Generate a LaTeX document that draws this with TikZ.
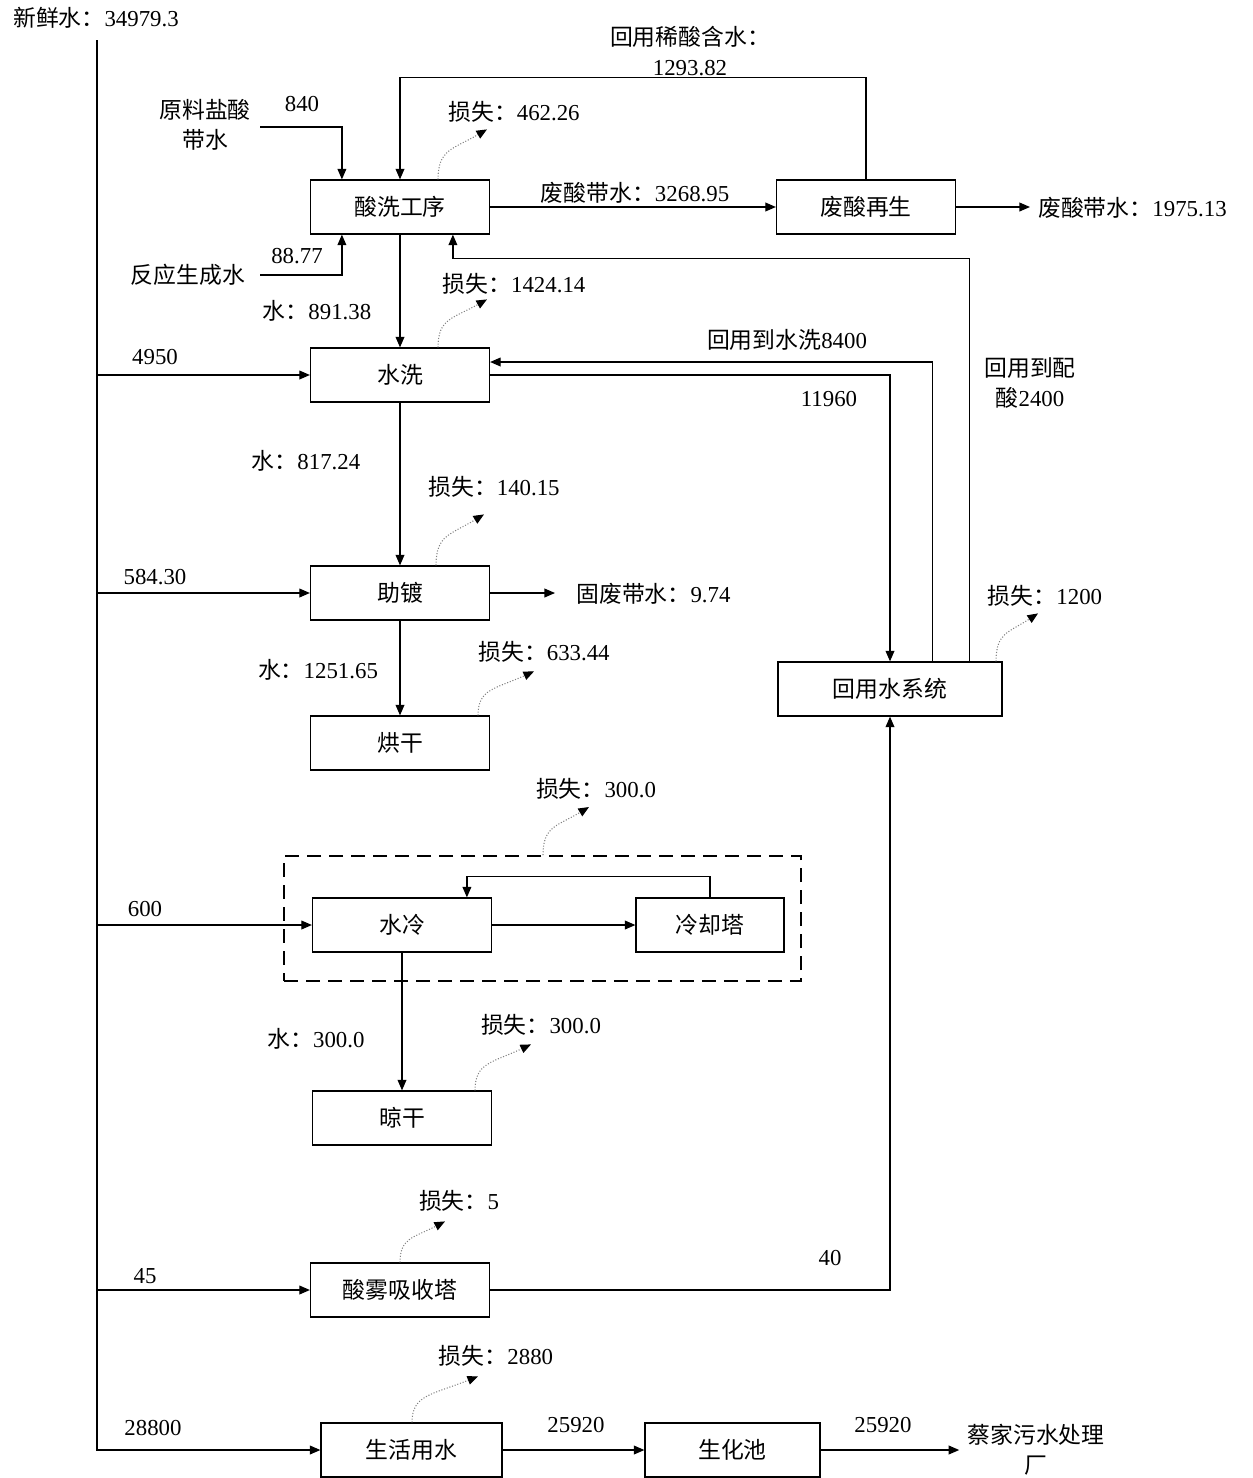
\documentclass[tikz,border=0pt]{standalone}
\usepackage{fontspec}
\setmainfont{Liberation Serif}
\newfontfamily\cjkfont{Noto Sans CJK SC}
\newcommand{\zh}[1]{{\cjkfont #1}}
\usetikzlibrary{arrows.meta,calc}

\tikzset{
  box/.style={draw, line width=0.7pt, minimum width=3.58cm, minimum height=1.08cm, inner sep=0pt, font=\fontsize{13}{17}\selectfont},
  lbl/.style={inner sep=0pt, font=\fontsize{13}{17}\selectfont},
  flow/.style={line width=0.7pt, -{Triangle[length=6pt,width=5pt]}},
  loss/.style={gray, densely dotted, line width=0.6pt, -{Triangle[length=6pt,width=5pt,color=black]}}
}

\begin{document}
\begin{tikzpicture}[x=0.02cm, y=-0.02cm]
  \useasboundingbox (0,0) rectangle (1252,1478);

  % boxes
  \node[box] (sxgx) at (400,207) {\zh{酸洗工序}};
  \node[box] (fscs) at (866,207) {\zh{废酸再生}};
  \node[box] (sx) at (400,375) {\zh{水洗}};
  \node[box] (zd) at (400,593) {\zh{助镀}};
  \node[box] (hg) at (400,743) {\zh{烘干}};
  \node[box, minimum width=4.48cm] (hys) at (890,689) {\zh{回用水系统}};
  \node[draw, dashed, line width=1.1pt, dash pattern=on 0.28cm off 0.16cm, minimum width=10.34cm, minimum height=2.5cm] (lq) at (542.5,918.5) {};
  \node[box] (sl) at (402,925) {\zh{水冷}};
  \node[box, minimum width=2.96cm] (lqt) at (710,925) {\zh{冷却塔}};
  \node[box] (lg) at (402,1118) {\zh{晾干}};
  \node[box] (swxs) at (400,1290) {\zh{酸雾吸收塔}};
  \node[box, minimum width=3.62cm] (shys) at (411.5,1450) {\zh{生活用水}};
  \node[box, minimum width=3.5cm] (shc) at (732.5,1450) {\zh{生化池}};

  % texts
  \node[lbl] (xxs) at (96,18) {\zh{新鲜水：}34979.3};
  \coordinate (src) at (97,40);
  \node[lbl, align=center] (hyxs) at (690,51) {\zh{回用稀酸含水：}\\1293.82};
  \node[lbl] at (302,104) {840};
  \node[lbl, align=center] (ylys) at (205,125) {\zh{原料盐酸}\\\zh{带水}};
  \node[lbl] at (297,256) {88.77};
  \node[lbl] (fysc) at (188,275) {\zh{反应生成水}};
  \node[lbl] at (635,193) {\zh{废酸带水：}3268.95};
  \node[lbl, anchor=west, inner sep=4.5pt] (fsout) at (1030,208) {\zh{废酸带水：}1975.13};
  \node[lbl] at (514,112) {\zh{损失：}462.26};
  \node[lbl] at (514,284) {\zh{损失：}1424.14};
  \node[lbl] at (317,311) {\zh{水：}891.38};
  \node[lbl] at (787,340) {\zh{回用到水洗}8400};
  \node[lbl] at (155,357) {4950};
  \node[lbl, align=center] at (1030,383) {\zh{回用到配}\\\zh{酸}2400};
  \node[lbl] at (829,399) {11960};
  \node[lbl] at (306,461) {\zh{水：}817.24};
  \node[lbl] at (494,487) {\zh{损失：}140.15};
  \node[lbl] at (155,577) {584.30};
  \node[lbl, anchor=west] (gf) at (576,594) {\zh{固废带水：}9.74};
  \node[lbl] at (1045,596) {\zh{损失：}1200};
  \node[lbl] at (544,652) {\zh{损失：}633.44};
  \node[lbl] at (318,670) {\zh{水：}1251.65};
  \node[lbl] at (596,789) {\zh{损失：}300.0};
  \node[lbl] at (145,909) {600};
  \node[lbl] at (316,1039) {\zh{水：}300.0};
  \node[lbl] at (541,1025) {\zh{损失：}300.0};
  \node[lbl] at (459,1201) {\zh{损失：}5};
  \node[lbl] at (830,1258) {40};
  \node[lbl] at (145,1276) {45};
  \node[lbl] at (496,1356) {\zh{损失：}2880};
  \node[lbl] at (153,1428) {28800};
  \node[lbl] at (576,1425) {25920};
  \node[lbl] at (883,1425) {25920};
  \node[lbl, align=center, inner sep=4.5pt] (cj) at (1036,1450) {\zh{蔡家污水处理}\\\zh{厂}};

  % fresh water
  \draw[flow] (src) |- (shys.west);
  \foreach \b in {sx, zd, sl, swxs} \draw[flow] (src |- \b.west) -- (\b.west);

  % acid washing
  \coordinate (ylin) at (260,127);
  \coordinate (fyin) at (260,275);
  \draw[flow] (ylin) -| ($(sxgx.north west)+(32,0)$);
  \draw[flow] (fyin) -| ($(sxgx.south west)+(32,0)$);
  \draw[flow] (sxgx.east) -- (fscs.west);
  \draw[flow] (fscs.north) -- ++(0,-102) -| (sxgx.north);
  \draw[flow] (fscs.east) -- (fscs.east -| fsout.west);
  \draw[flow] (sxgx.south) -- (sx.north);

  % reuse water
  \draw[flow] ($(hys.north west)+(192,0)$) -- ++(0,-403) -| ($(sxgx.south west)+(143,0)$);
  \draw[flow] ($(hys.north west)+(155,0)$) |- ($(sx.east)+(0,-13)$);
  \draw[flow] (sx.east) -| (hys.north);

  \draw[flow] (sx.south) -- (zd.north);
  \draw[flow] (zd.south) -- (hg.north);
  \draw[flow] (zd.east) -- ([xshift=-0.42cm]zd.east -| gf.west);

  % cooling
  \draw[flow] (sl.east) -- (lqt.west);
  \draw[flow] (lqt.north) -- ++(0,-21) -| ($(sl.north west)+(155,0)$);
  \draw[flow] (sl.south) -- (lg.north);

  \draw[flow] (swxs.east) -| (hys.south);
  \draw[flow] (shys.east) -- (shc.west);
  \draw[flow] (shc.east) -- (shc.east -| cj.west);

  % losses
  \foreach \b/\dx/\ex/\ey in {sxgx/38/49/-50, sx/38/49/-48, zd/36/48/-51, hg/78/56/-44, lq/0.5/46/-48, lg/73/56/-46, swxs/0/45/-41, shys/0.5/66/-46, hys/106/42/-48}{
    \coordinate (s) at ($(\b.north)+(\dx,0)$);
    \draw[loss] (s) .. controls ($(s)+(0,0.6*\ey)$) and ($(s)+(0.3*\ex,0.6*\ey)$) .. ($(s)+(\ex,\ey)$);
  }
\end{tikzpicture}
\end{document}
